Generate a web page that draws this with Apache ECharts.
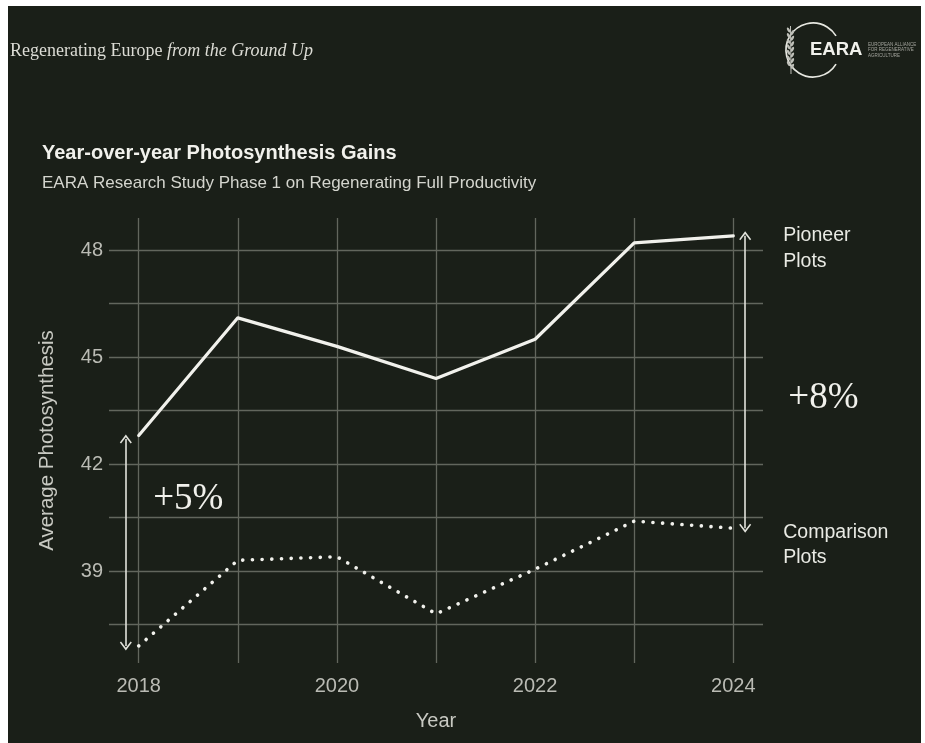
<!DOCTYPE html>
<html>
<head>
<meta charset="utf-8">
<script src="https://cdn.jsdelivr.net/npm/echarts@6/dist/echarts.min.js"></script>
<style>
  html, body { margin: 0; padding: 0; background: #ffffff; }
  #chart {
    width: 925px; height: 743px;
    background: linear-gradient(#1a1f18, #1a1f18) 8px 6px / 913px 737px no-repeat, #ffffff;
  }
</style>
</head>
<body>
<div id="chart"></div>
<script>
// Yearly average photosynthesis for the two plot groups
const years = [2018, 2019, 2020, 2021, 2022, 2023, 2024];
const pioneer = [42.8, 46.1, 45.3, 44.4, 45.5, 48.2, 48.4];
const comparison = [36.9, 39.3, 39.4, 37.8, 39.05, 40.4, 40.2];

// Axis labels and grid positions
const xTickLabels = [2018, 2020, 2022, 2024];
const yTickLabels = [39, 42, 45, 48];
const yGridValues = [37.5, 39, 40.5, 42, 43.5, 45, 46.5, 48];

// Text shown on the chart
const seriesNames = ['Pioneer\nPlots', 'Comparison\nPlots'];
const gainLabels = ['+5%', '+8%'];
const titleText = 'Year-over-year Photosynthesis Gains';
const subtitleText = 'EARA Research Study Phase 1 on Regenerating Full Productivity';
const xName = 'Year';
const yName = 'Average Photosynthesis';

const SANS = 'Liberation Sans, Arial, sans-serif';
const SERIF = 'Liberation Serif, Times New Roman, serif';
const INK = '#f1f1ec';

// Open chevron used for the ends of the double-headed arrows
const chevron = 'path://M5,0 L10.6,6.9 L9.5,7.9 L5,2.3 L0.5,7.9 L-0.6,6.9 Z';

const chart = echarts.init(document.getElementById('chart'), null, { renderer: 'canvas' });

const toPairs = vals => years.map((y, i) => [y, vals[i]]);
const last = years.length - 1;

chart.setOption({
  backgroundColor: 'transparent',
  animation: false,
  title: {
    text: titleText,
    subtext: subtitleText,
    left: 42,
    top: 143,
    padding: 0,
    itemGap: 12,
    textStyle: { color: INK, fontSize: 20, fontWeight: 'bold', fontFamily: SANS },
    subtextStyle: { color: '#d4d5ce', fontSize: 17, fontFamily: SANS }
  },
  grid: { left: 109, right: 162, top: 218, bottom: 80, containLabel: false },
  xAxis: {
    type: 'value',
    min: 2017.7,
    max: 2024.3,
    name: xName,
    nameLocation: 'middle',
    nameGap: 48,
    nameTextStyle: { color: '#c8c9c2', fontSize: 20, fontFamily: SANS },
    axisLine: { show: false },
    axisTick: { show: false, customValues: years },
    axisLabel: {
      customValues: xTickLabels,
      color: '#babbb4', fontSize: 20, fontFamily: SANS, margin: 13,
      formatter: v => String(v)
    },
    splitLine: { show: true, lineStyle: { color: '#62665d', width: 1.3 } }
  },
  yAxis: {
    type: 'value',
    min: 36.42,
    max: 48.9,
    name: yName,
    nameLocation: 'middle',
    nameGap: 51,
    nameTextStyle: { color: '#c8c9c2', fontSize: 20.5, fontFamily: SANS },
    axisLine: { show: false },
    axisTick: { show: false, customValues: yGridValues },
    axisLabel: {
      customValues: yTickLabels,
      color: '#babbb4', fontSize: 20, fontFamily: SANS, margin: 6,
      formatter: v => String(v)
    },
    splitLine: { show: true, lineStyle: { color: '#62665d', width: 1.3 } }
  },
  series: [
    {
      name: 'Pioneer Plots',
      type: 'line',
      data: toPairs(pioneer),
      symbol: 'none',
      z: 3,
      lineStyle: { color: INK, width: 3.2, cap: 'round', join: 'round' },
      endLabel: {
        show: true, formatter: seriesNames[0], distance: 50, offset: [0, 13],
        color: '#e9eae4', fontSize: 19.5, lineHeight: 26, fontFamily: SANS, align: 'left'
      },
      markLine: {
        silent: true,
        symbol: [chevron, chevron],
        symbolSize: [12, 9],
        label: { show: false },
        emphasis: { disabled: true },
        lineStyle: { color: '#e2e3dc', width: 1.6, type: 'solid' },
        data: [
          [{ coord: [2017.87, comparison[0]] }, { coord: [2017.87, pioneer[0] - 0.1] }],
          [{ coord: [2024.12, comparison[last]] }, { coord: [2024.12, pioneer[last]] }]
        ]
      }
    },
    {
      name: 'Comparison Plots',
      type: 'line',
      data: toPairs(comparison),
      symbol: 'none',
      z: 3,
      lineStyle: { color: INK, width: 3.6, type: [0.1, 9.6], cap: 'round', join: 'round' },
      endLabel: {
        show: true, formatter: seriesNames[1], distance: 50, offset: [0, 17],
        color: '#e9eae4', fontSize: 19.5, lineHeight: 25, fontFamily: SANS, align: 'left'
      }
    }
  ]
});

// Gain labels placed in data space beside each arrow
const gainAnchors = [[2018.5, 41.0], [2024.91, 43.85]];
const gainGraphics = gainAnchors.map((c, i) => {
  const p = chart.convertToPixel({ gridIndex: 0 }, c);
  return {
    type: 'text', x: p[0], y: p[1], z: 10,
    style: {
      text: gainLabels[i], fill: INK, font: '37px ' + SERIF,
      align: 'center', verticalAlign: 'middle'
    }
  };
});

// Wheat ear drawn inside the logo ring
const wheat = [];
for (let k = 0; k < 7; k++) {
  const y = 30 + k * 5.6;
  wheat.push({ type: 'ellipse', shape: { cx: 788.6, cy: y, rx: 1.3, ry: 2.8 },
    rotation: 0.5, originX: 788.6, originY: y, style: { fill: '#bfc0b9' } });
  wheat.push({ type: 'ellipse', shape: { cx: 792.4, cy: y + 2.6, rx: 1.3, ry: 2.8 },
    rotation: -0.5, originX: 792.4, originY: y + 2.6, style: { fill: '#bfc0b9' } });
}

chart.setOption({
  graphic: [
    {
      type: 'text', x: 10, y: 51,
      style: {
        text: '{a|Regenerating Europe }{b|from the Ground Up}',
        verticalAlign: 'middle',
        rich: {
          a: { fontFamily: SERIF, fontSize: 18, fill: '#dcdcd5' },
          b: { fontFamily: SERIF, fontSize: 18, fontStyle: 'italic', fill: '#dcdcd5' }
        }
      }
    },
    {
      type: 'arc',
      shape: { cx: 813, cy: 50, r: 27, startAngle: 0.55, endAngle: 2 * Math.PI - 0.55, clockwise: true },
      style: { stroke: '#e6e7e0', lineWidth: 1.7, fill: null }
    },
    { type: 'line', shape: { x1: 790.5, y1: 26, x2: 791, y2: 74 }, style: { stroke: '#bfc0b9', lineWidth: 1 } },
    ...wheat,
    {
      type: 'text', x: 810, y: 50,
      style: { text: 'EARA', fill: INK, font: 'bold 18.5px ' + SANS, verticalAlign: 'middle' }
    },
    {
      type: 'text', x: 868, y: 50,
      style: {
        text: 'EUROPEAN ALLIANCE\nFOR REGENERATIVE\nAGRICULTURE',
        fill: '#a4a59e', font: '4.5px ' + SANS, lineHeight: 5.6, verticalAlign: 'middle'
      }
    },
    ...gainGraphics
  ]
});
</script>
</body>
</html>
